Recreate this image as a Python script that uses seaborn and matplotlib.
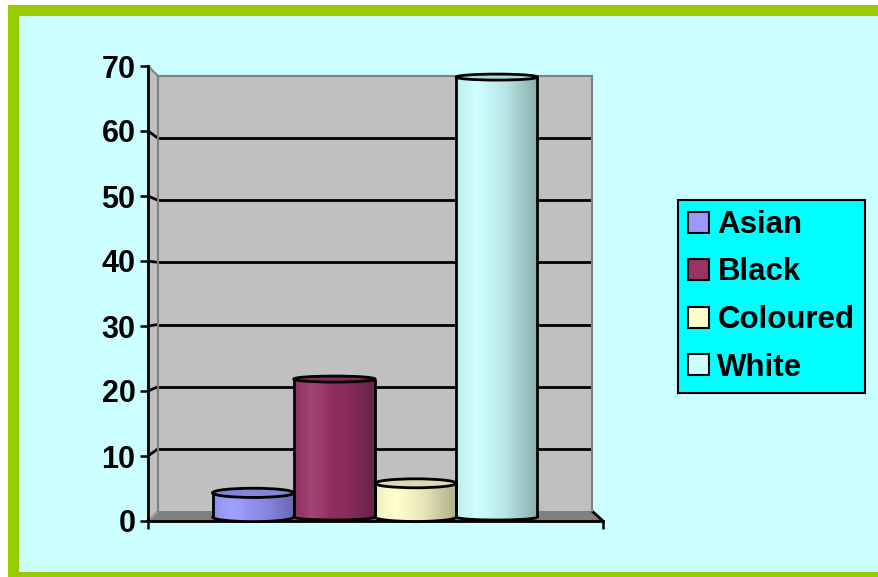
import numpy as np
import pandas as pd
import matplotlib
matplotlib.use("Agg")
import matplotlib.pyplot as plt
import seaborn as sns
from matplotlib.patches import Rectangle, Ellipse, Polygon, PathPatch, Patch
from matplotlib.path import Path
from matplotlib.colors import to_rgb

# ---- data -------------------------------------------------------------
groups = ["Asian", "Black", "Coloured", "White"]
shares = [3.8, 21.7, 5.3, 69.2]
colors = ["#9999FF", "#993366", "#FFFFCC", "#CCFFFF"]
y_ticks = [0, 10, 20, 30, 40, 50, 60, 70]
y_tick_labels = [str(t) for t in y_ticks]

# ---- layout (pixels) --------------------------------------------------
W, H = 879, 577
YMAX = 70
FRONT = dict(x0=148, x1=603, top=66, base=521)   # front plane of the 3-D box
BACK = dict(x0=158, x1=592, top=76, base=511)    # back wall
CYL_TOP, CYL_BASE, CYL_YMIN = 72, 517, -2        # plane where the cylinders stand
FONT = "Liberation Sans"

sns.set_theme(style="white")
plt.rcParams["font.family"] = [FONT, "DejaVu Sans"]


def rect(x0, y0, x1, y1):
    return [x0 / W, 1 - y1 / H, (x1 - x0) / W, (y1 - y0) / H]


def y_front(v):
    return FRONT["base"] - (FRONT["base"] - FRONT["top"]) * v / YMAX


def y_back(v):
    return BACK["base"] - (BACK["base"] - BACK["top"]) * v / YMAX


fig = plt.figure(figsize=(W / 100, H / 100), dpi=100, facecolor="white")

# ---- background, frame, side wall and floor (pixel coordinates) -------
bg = fig.add_axes([0, 0, 1, 1], zorder=0)
bg.set_xlim(0, W)
bg.set_ylim(H, 0)
bg.axis("off")
bg.add_patch(Rectangle((8, 5), W, H, facecolor="#CCFFFF", edgecolor="none"))
green = "#99CC00"
for xy, wd, ht in [((8, 5), W, 11), ((8, 5), 11, H), ((8, 572), W, 10)]:
    bg.add_patch(Rectangle(xy, wd, ht, facecolor=green, edgecolor="none"))

side = Polygon([(FRONT["x0"], FRONT["top"]), (BACK["x0"], BACK["top"]),
                (BACK["x0"], BACK["base"]), (FRONT["x0"], FRONT["base"])],
               closed=True, facecolor="#C0C0C0", edgecolor="#808080", linewidth=1.5)
bg.add_patch(side)
for v in y_ticks[1:-1]:
    bg.plot([FRONT["x0"], BACK["x0"]], [y_front(v), y_back(v)], color="black", lw=2)

floor = Polygon([(BACK["x0"], BACK["base"]), (BACK["x1"], BACK["base"]),
                 (FRONT["x1"], FRONT["base"]), (FRONT["x0"], FRONT["base"])],
                closed=True, facecolor="#808080", edgecolor="none")
bg.add_patch(floor)
bg.plot([BACK["x1"], FRONT["x1"]], [BACK["base"], FRONT["base"]], color="black", lw=2)
bg.plot([FRONT["x0"], BACK["x0"]], [FRONT["base"], BACK["base"]], color="#A0A0A0", lw=1.2)

# ---- back wall with gridlines -----------------------------------------
wall = fig.add_axes(rect(BACK["x0"], BACK["top"], BACK["x1"], BACK["base"]), zorder=1)
wall.set_facecolor("#C0C0C0")
wall.set_xlim(0, 1)
wall.set_ylim(0, YMAX)
wall.set_xticks([])
wall.set_yticks([])
for s in wall.spines.values():
    s.set_visible(True)
    s.set_color("#808080")
    s.set_linewidth(1.5)
wall.spines["bottom"].set_visible(False)
for v in y_ticks[1:-1]:
    wall.axhline(v, color="black", lw=2)

# ---- front value axis -------------------------------------------------
front = fig.add_axes(rect(FRONT["x0"], FRONT["top"], FRONT["x1"], FRONT["base"]), zorder=2)
front.patch.set_alpha(0)
front.set_xlim(0, 1)
front.set_ylim(0, YMAX)
front.set_yticks(y_ticks)
front.set_yticklabels(y_tick_labels)
front.set_xticks([0, 1])
front.set_xticklabels([])
for name in ("top", "right"):
    front.spines[name].set_visible(False)
for name in ("left", "bottom"):
    front.spines[name].set_visible(True)
    front.spines[name].set_color("black")
    front.spines[name].set_linewidth(2)
front.tick_params(axis="both", direction="out", length=5.5, width=1.8, color="black",
                  left=True, bottom=True)
front.tick_params(axis="y", labelsize=22, pad=3.5, labelcolor="black")
for lbl in front.get_yticklabels():
    lbl.set_fontweight("bold")
    lbl.set_family(FONT)

# ---- cylinders ----------------------------------------------------------
cyl_bottom_px = CYL_BASE + (CYL_BASE - CYL_TOP) / YMAX * (-CYL_YMIN)
cyl = fig.add_axes(rect(BACK["x0"], CYL_TOP, BACK["x1"], cyl_bottom_px), zorder=3)
df = pd.DataFrame({"group": groups, "share": shares})
sns.barplot(data=df, x="group", y="share", hue="group", palette=colors,
            width=1.0, saturation=1, legend=False, ax=cyl)
cyl.set_xlim(-1.171, 4.171)
cyl.set_ylim(CYL_YMIN, YMAX)
cyl.axis("off")
px_per_unit = (CYL_BASE - CYL_TOP) / YMAX

# horizontal shading across each cylinder body
t_grad = np.linspace(0, 1, 200)
shade = np.interp(t_grad, [0, 0.25, 0.6, 1.0], [0.93, 1.0, 0.9, 0.68])
glow = np.interp(t_grad, [0, 0.22, 0.45, 1.0], [0.0, 0.09, 0.0, 0.0])

for bar, col in zip(list(cyl.patches), colors):
    x0, w, h = bar.get_x(), bar.get_width(), bar.get_height()
    bar.set_visible(False)
    cx = x0 + w / 2
    e_px = 6 + 4 * max(0.0, 1 - h / 20)
    eh = e_px / px_per_unit

    base = np.array(to_rgb(col))
    grad = base[None, :] * shade[:, None]
    grad = grad + (1 - grad) * glow[:, None]
    grad = np.clip(grad, 0, 1)[None, :, :]

    ang = np.linspace(np.pi, 2 * np.pi, 80)
    arc_x = cx + w / 2 * np.cos(ang)
    arc_y = eh / 2 * np.sin(ang)
    verts = [(x0, h)] + list(zip(arc_x, arc_y)) + [(x0 + w, h), (x0, h)]
    codes = [Path.MOVETO] + [Path.LINETO] * (len(verts) - 2) + [Path.CLOSEPOLY]
    body = PathPatch(Path(verts, codes), transform=cyl.transData,
                     facecolor="none", edgecolor="none")
    cyl.add_patch(body)
    im = cyl.imshow(grad, extent=[x0, x0 + w, -eh / 2, h], aspect="auto",
                    interpolation="bilinear", zorder=2)
    im.set_clip_path(body)

    cyl.plot([x0, x0], [0, h], color="black", lw=2, zorder=3, solid_capstyle="butt")
    cyl.plot([x0 + w, x0 + w], [0, h], color="black", lw=2, zorder=3, solid_capstyle="butt")
    cyl.plot(arc_x, arc_y, color="black", lw=2, zorder=3)
    cap = Ellipse((cx, h), w, eh, facecolor=np.clip(base * 0.86, 0, 1),
                  edgecolor="black", linewidth=2, zorder=4)
    cyl.add_patch(cap)

cyl.set_xlim(-1.171, 4.171)
cyl.set_ylim(CYL_YMIN, YMAX)

# ---- legend -------------------------------------------------------------
handles = [Patch(facecolor=c, edgecolor="black", linewidth=1.5, label=g)
           for g, c in zip(groups, colors)]
leg = fig.legend(handles=handles, loc="upper left",
                 bbox_to_anchor=(678 / W, 1 - 200 / H), bbox_transform=fig.transFigure,
                 frameon=True, fancybox=False, borderaxespad=0,
                 prop={"family": FONT, "weight": "bold", "size": 22.5},
                 handlelength=0.66, handleheight=0.66, handletextpad=0.28,
                 labelspacing=0.56, borderpad=0.32)
frame = leg.get_frame()
frame.set_facecolor("#00FFFF")
frame.set_edgecolor("black")
frame.set_linewidth(1.5)
frame.set_alpha(1)
for txt in leg.get_texts():
    txt.set_color("black")

fig.savefig("out.png", dpi=100, facecolor=fig.get_facecolor())
